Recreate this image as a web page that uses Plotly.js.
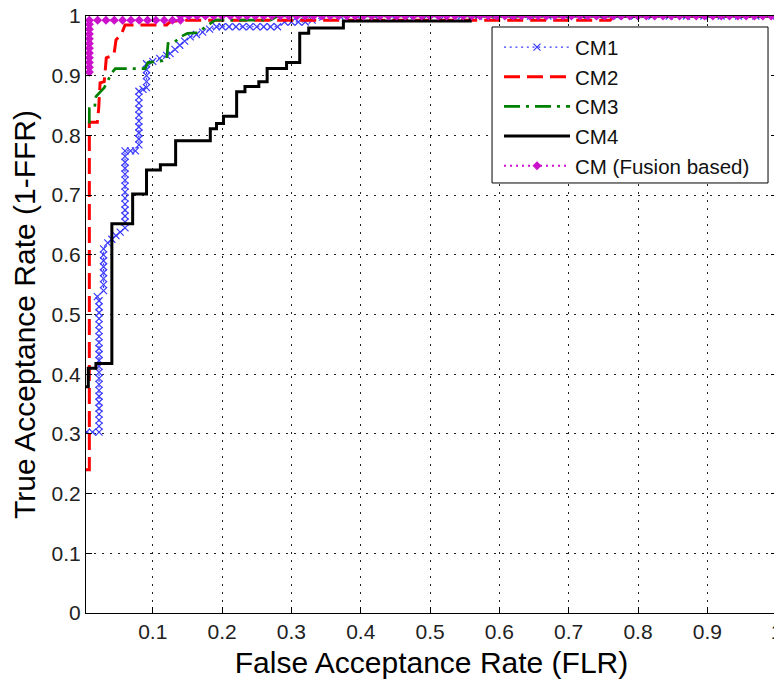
<!DOCTYPE html>
<html>
<head>
<meta charset="utf-8">
<script src="https://cdn.plot.ly/plotly-3.0.1.min.js"></script>
<style>
html,body{margin:0;padding:0;overflow:hidden;background:#fff;}
#chart{width:780px;height:682px;}
</style>
</head>
<body>
<div id="chart"></div>
<script>
// ---- data ----
const seriesNames = ["CM1", "CM2", "CM3", "CM4", "CM (Fusion based)"];
const xTickVals = [0.1, 0.2, 0.3, 0.4, 0.5, 0.6, 0.7, 0.8, 0.9, 1];
const yTickVals = [0, 0.1, 0.2, 0.3, 0.4, 0.5, 0.6, 0.7, 0.8, 0.9, 1];

const cm1X = [0.0045, 0.013, 0.0225,
  0.0225, 0.0225, 0.0225, 0.0225, 0.0225, 0.0225, 0.0225, 0.0225, 0.0225, 0.0225, 0.0225,
  0.0225, 0.0225, 0.0225, 0.0225, 0.0225, 0.0225, 0.0225, 0.0225, 0.0225, 0.0225, 0.0225,
  0.02, 0.029, 0.029, 0.029, 0.029, 0.029, 0.029, 0.029, 0.029,
  0.035, 0.041, 0.047, 0.053, 0.06,
  0.06, 0.06, 0.06, 0.06, 0.06, 0.06, 0.06, 0.06, 0.06, 0.06, 0.06, 0.06, 0.06,
  0.068, 0.075,
  0.08, 0.08, 0.08, 0.08, 0.08, 0.08, 0.08, 0.08, 0.08, 0.08,
  0.086, 0.091, 0.091, 0.091, 0.091, 0.091,
  0.1, 0.11, 0.12, 0.125, 0.132, 0.139, 0.146, 0.154, 0.163, 0.172, 0.182, 0.192,
  0.2, 0.21, 0.22, 0.23, 0.24, 0.25, 0.26, 0.27, 0.28,
  0.29, 0.3, 0.31, 0.32, 0.33, 0.345,
  0.37, 0.395, 0.42, 0.445, 0.47, 0.495, 0.52, 0.545, 0.57, 0.595, 0.62, 0.645, 0.67,
  0.695, 0.72, 0.745, 0.77, 0.795, 0.82, 0.845, 0.87, 0.895, 0.92, 0.945, 0.97, 1.0];
const cm1Y = [0.303, 0.303, 0.303,
  0.313, 0.323, 0.333, 0.343, 0.353, 0.363, 0.373, 0.383, 0.393, 0.403, 0.413,
  0.423, 0.433, 0.443, 0.453, 0.463, 0.473, 0.483, 0.493, 0.503, 0.513, 0.523,
  0.53, 0.54, 0.55, 0.56, 0.57, 0.58, 0.59, 0.6, 0.61,
  0.62, 0.626, 0.632, 0.638, 0.645,
  0.655, 0.665, 0.675, 0.685, 0.695, 0.705, 0.715, 0.725, 0.735, 0.745, 0.755, 0.765, 0.774,
  0.774, 0.774,
  0.784, 0.794, 0.804, 0.814, 0.824, 0.834, 0.844, 0.854, 0.864, 0.874,
  0.877, 0.88, 0.89, 0.9, 0.91, 0.92,
  0.924, 0.929, 0.934, 0.937, 0.944, 0.951, 0.958, 0.965, 0.969, 0.973, 0.978, 0.982,
  0.982, 0.982, 0.982, 0.982, 0.982, 0.982, 0.982, 0.982, 0.982,
  0.99, 0.99, 0.99, 0.99, 0.993, 0.998,
  1, 1, 1, 1, 1, 1, 1, 1, 1, 1, 1, 1, 1,
  1, 1, 1, 1, 1, 1, 1, 1, 1, 1, 1, 1, 1];

const cm2X = [0.0037, 0.0085, 0.0085, 0.02, 0.022, 0.024, 0.03, 0.033, 0.044, 0.047, 0.055, 0.06, 0.12, 0.125, 0.14, 0.76, 0.765, 1.0];
const cm2Y = [0.24, 0.24, 0.822, 0.822, 0.845, 0.888, 0.89, 0.93, 0.935, 0.96, 0.97, 0.985, 0.985, 0.99, 0.993, 0.993, 1.0, 1.0];

const cm3X = [0.0085, 0.0085, 0.016, 0.018, 0.026, 0.03, 0.041, 0.046, 0.089, 0.093, 0.12, 0.122, 0.13, 0.14, 0.15, 0.165, 0.18, 0.19, 0.27, 0.28, 1.0];
const cm3Y = [0.82, 0.845, 0.845, 0.865, 0.875, 0.88, 0.905, 0.912, 0.912, 0.922, 0.926, 0.954, 0.955, 0.965, 0.971, 0.972, 0.985, 0.993, 0.993, 1.0, 1.0];

// step curve: each point = (x where it rises, new level)
const cm4X = [0.0037, 0.007, 0.018, 0.041, 0.071, 0.091, 0.111, 0.133, 0.183, 0.192, 0.202, 0.221, 0.233, 0.253, 0.265, 0.293, 0.312, 0.325, 0.375, 0.558, 1.0];
const cm4Y = [0.379, 0.41, 0.418, 0.652, 0.702, 0.742, 0.751, 0.791, 0.811, 0.820, 0.832, 0.873, 0.882, 0.890, 0.912, 0.922, 0.971, 0.980, 0.9915, 1.0, 1.0];

const fusX = [0.0085, 0.0085, 0.0085, 0.0085, 0.0085, 0.0085, 0.0085, 0.0085, 0.0085, 0.0085, 0.0085, 0.0085,
  0.0205, 0.0325, 0.0445, 0.0565, 0.0685, 0.0805, 0.0925, 0.1045, 0.1165, 0.1285, 0.14,
  0.14, 0.152, 0.164, 0.176, 0.188, 0.2, 0.212, 0.224, 0.236, 0.248, 0.26, 0.272, 0.284, 0.296,
  0.308, 0.32, 0.332, 0.344, 0.356, 0.368, 0.38, 0.392, 0.404, 0.416, 0.428, 0.44, 0.452,
  0.464, 0.476, 0.488, 0.5, 0.512, 0.524, 0.536, 0.548, 0.56, 0.572, 0.584, 0.596, 0.608,
  0.62, 0.632, 0.644, 0.656, 0.668, 0.68, 0.692, 0.704, 0.716, 0.728, 0.74, 0.752, 0.764,
  0.776, 0.788, 0.8, 0.812, 0.824, 0.836, 0.848, 0.86, 0.872, 0.884, 0.896, 0.908, 0.92,
  0.932, 0.944, 0.956, 0.968, 0.98, 0.992, 1.0];
const fusY = [0.906, 0.914, 0.922, 0.93, 0.938, 0.946, 0.954, 0.962, 0.97, 0.978, 0.986, 0.993,
  0.993, 0.993, 0.993, 0.993, 0.993, 0.993, 0.993, 0.993, 0.993, 0.993, 0.993,
  1, 1, 1, 1, 1, 1, 1, 1, 1, 1, 1, 1, 1, 1,
  1, 1, 1, 1, 1, 1, 1, 1, 1, 1, 1, 1, 1,
  1, 1, 1, 1, 1, 1, 1, 1, 1, 1, 1, 1, 1,
  1, 1, 1, 1, 1, 1, 1, 1, 1, 1, 1, 1, 1,
  1, 1, 1, 1, 1, 1, 1, 1, 1, 1, 1, 1, 1,
  1, 1, 1, 1, 1, 1, 1];

const xTitle = "False Acceptance Rate (FLR)";
const yTitle = "True Acceptance Rate (1-FFR)";

// ---- plot ----
const FONT = "Liberation Sans, Arial, Helvetica, sans-serif";
const traces = [
  {x: cm1X, y: cm1Y, name: seriesNames[0], type: "scatter", mode: "lines+markers", legendgroup: "a",
   line: {color: "#3a3aff", width: 1.2, dash: "2px,3.7px"},
   marker: {symbol: "x-thin-open", size: 7, color: "#3a3aff", line: {width: 1.2, color: "#3a3aff"}}},
  {x: cm2X, y: cm2Y, name: seriesNames[1], type: "scatter", mode: "lines", legendgroup: "b",
   line: {color: "#ff0000", width: 3, dash: "16px,7px"}},
  {x: cm3X, y: cm3Y, name: seriesNames[2], type: "scatter", mode: "lines", legendgroup: "c",
   line: {color: "#008000", width: 2.7, dash: "16px,6px,3px,6px"}},
  {x: cm4X, y: cm4Y, name: seriesNames[3], type: "scatter", mode: "lines", legendgroup: "d",
   line: {color: "#000000", width: 3, shape: "hv"}},
  {x: fusX, y: fusY, name: seriesNames[4], type: "scatter", mode: "lines+markers", legendgroup: "e",
   line: {color: "#cc11cc", width: 2, dash: "2px,4px"},
   marker: {symbol: "diamond", size: 7, color: "#cc11cc"}}
];

const axisCommon = {
  showline: true, linecolor: "#000", linewidth: 1, mirror: "ticks",
  ticks: "inside", ticklen: 6, tickcolor: "#000", tickwidth: 1,
  showgrid: true, gridcolor: "#222", gridwidth: 1, griddash: "2px,6px",
  zeroline: false, ticklabeloverflow: "allow",
  tickfont: {family: FONT, size: 21, color: "#222"}
};

const layout = {
  width: 780, height: 682,
  margin: {l: 86, r: 3, t: 16, b: 69},
  paper_bgcolor: "#fff", plot_bgcolor: "#fff",
  showlegend: true,
  legend: {
    x: 0.5977, y: 0.981, xanchor: "left", yanchor: "top",
    bgcolor: "rgba(0,0,0,0)", borderwidth: 0,
    font: {family: FONT, size: 20.5, color: "#111"},
    itemwidth: 66, tracegroupgap: 0, traceorder: "grouped"
  },
  shapes: [{
    type: "rect", xref: "paper", yref: "paper", layer: "above",
    x0: 0.5876, x1: 0.987, y0: 0.7203, y1: 0.9816,
    fillcolor: "#fff", line: {color: "#000", width: 1}
  }],
  xaxis: Object.assign({}, axisCommon, {
    range: [0.0037, 1.0005], tickvals: xTickVals, ticktext: xTickVals.map(String),
    title: {text: xTitle, font: {family: FONT, size: 30, color: "#000"}, standoff: 9}
  }),
  yaxis: Object.assign({}, axisCommon, {
    range: [0, 1], tickvals: yTickVals, ticktext: yTickVals.map(String),
    title: {text: yTitle, font: {family: FONT, size: 30, color: "#000"}, standoff: 7}
  })
};

Plotly.newPlot("chart", traces, layout, {staticPlot: true, displayModeBar: false});
</script>
</body>
</html>
